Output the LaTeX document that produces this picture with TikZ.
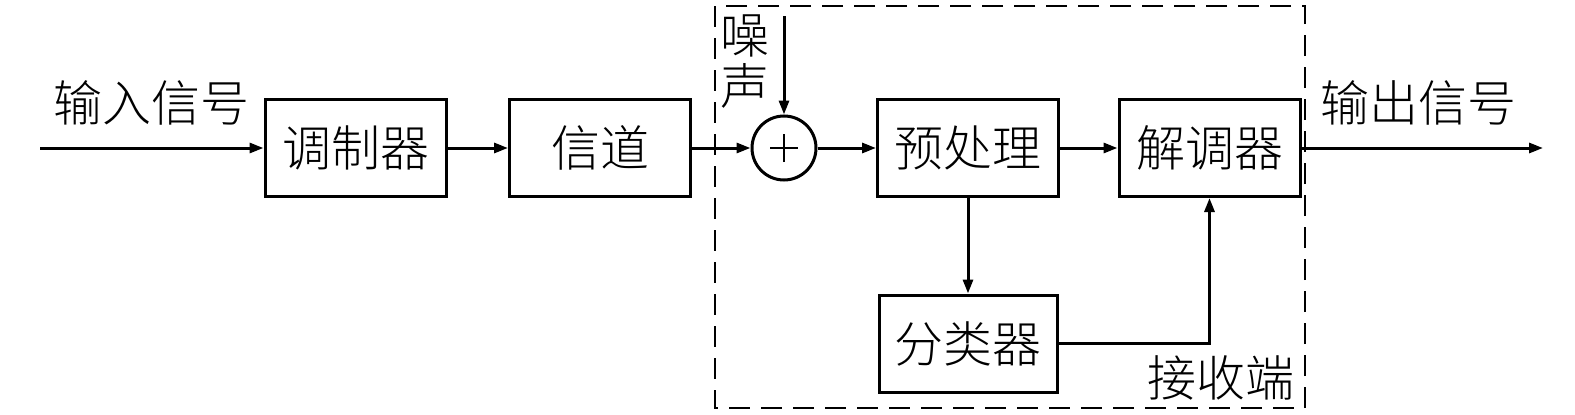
\documentclass[tikz,border=0pt]{standalone}
\usepackage{fontspec}
\newfontfamily\cjk{Noto Sans CJK SC Light}
\usetikzlibrary{arrows.meta}
\begin{document}
\begin{tikzpicture}[x=1pt,y=-1pt,
  every node/.style={font=\cjk\fontsize{49}{52}\selectfont, inner sep=0pt},
  box/.style={draw, line width=3pt, minimum width=181pt, minimum height=97pt},
  conn/.style={line width=3pt, -{Triangle[length=14pt,width=10pt]}},
  dashbox/.style={line width=2.8pt, dash pattern=on 21pt off 11pt}]
\useasboundingbox (0,0) rectangle (1575,415);
\draw[dashbox] (715,6) rectangle (1305,408);
\node[box] (mod) at (355.5,148) {调制器};
\node[box] (ch) at (600,148) {信道};
\node[draw, circle, line width=3pt, minimum size=64pt] (sum) at (784,148) {};
\draw[line width=1.5pt] ([xshift=-14pt]sum.center) -- ([xshift=14pt]sum.center)
  ([yshift=-14pt]sum.center) -- ([yshift=14pt]sum.center);
\node[box] (pre) at (968,148) {预处理};
\node[box] (dem) at (1209.5,148) {解调器};
\node[box, minimum width=178pt] (cls) at (968,343.5) {分类器};
\coordinate (in) at (40,148);
\coordinate (out) at (1543,148);
\coordinate (noise) at (784,16);
\node (inl) at (151,103) {输入信号};
\node (outl) at (1418,103) {输出信号};
\node (n1) at (745,36) {噪};
\node (n2) at (745,86) {声};
\node (rx) at (1221,378) {接收端};
\draw[conn] (in) -- (mod);
\draw[conn] (mod) -- (ch);
\draw[conn] (ch) -- (sum);
\draw[conn] (noise) -- (sum);
\draw[conn] (sum) -- (pre);
\draw[conn] (pre) -- (dem);
\draw[conn] (dem) -- (out);
\draw[conn] (pre.south -| cls.north) -- (cls.north);
\draw[conn] (cls.east) -| (dem.south);
\end{tikzpicture}
\end{document}
